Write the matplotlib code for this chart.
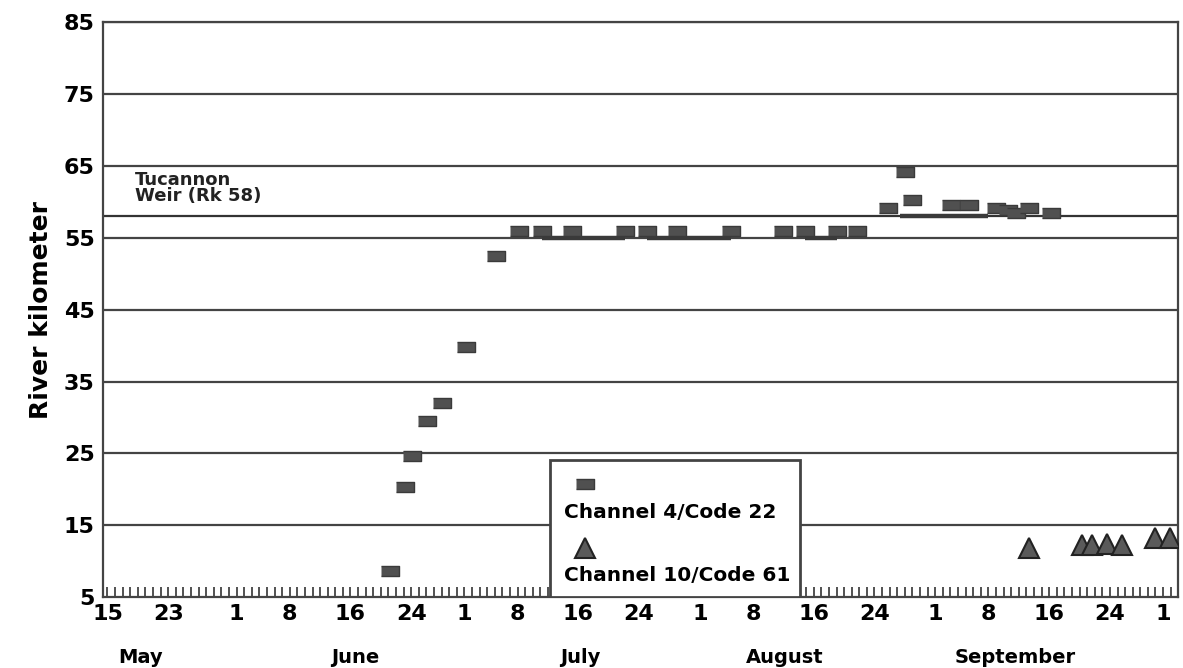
import matplotlib.pyplot as plt
from matplotlib.patches import Rectangle
import numpy as np

# Days since 15 May (x) and river kilometer (y)
ch4_day = [37.2, 39.2, 40.1, 42.1, 44.1, 47.2, 51.2,
           54.2, 57.2, 61.2, 68.2, 71.1, 75.0, 82.1, 88.9, 91.8, 96.1, 98.7,
           102.8, 105.0, 105.9, 111.1, 113.4, 117.0, 118.6, 119.6, 121.3, 124.3]
ch4_rk = [8.6, 20.3, 24.6, 29.5, 32.0, 39.8, 52.4,
          55.9, 55.9, 55.9, 55.9, 55.9, 55.9, 55.9, 55.9, 55.9, 55.9, 55.9,
          59.1, 64.1, 60.2, 59.5, 59.5, 59.1, 58.8, 58.4, 59.1, 58.4]

ch10_day = [121.3, 128.3, 129.7, 131.6, 133.6, 137.9, 139.9]
ch10_rk = [11.8, 12.2, 12.2, 12.4, 12.2, 13.2, 13.2]

# Stretches where the fish stayed put (start day, end day, river km)
stay_start = [57.2, 61.2, 71.1, 75.0, 91.8, 104.3]
stay_end = [61.2, 68.2, 75.0, 82.1, 96.1, 115.9]
stay_rk = [55, 55, 55, 55, 55, 58]

weir_rk = 58

# Tick labels
tick_days = [0, 8, 17, 24, 32, 40, 47, 54, 62, 70, 78, 85, 93, 101, 109, 116, 124, 132, 139]
tick_text = ['15', '23', '1', '8', '16', '24', '1', '8', '16', '24', '1', '8', '16', '24',
             '1', '8', '16', '24', '1']
month_day = [4.3, 32.6, 62.2, 89.2, 119.5]
month_text = ['May', 'June', 'July', 'August', 'September']
y_ticks = [5, 15, 25, 35, 45, 55, 65, 75, 85]

plt.rcParams['font.family'] = ['DejaVu Sans']
plt.rcParams['font.weight'] = 'bold'

fig = plt.figure(figsize=(11.83, 6.68), dpi=100)
ax = fig.add_axes([0.087, 0.106, 0.909, 0.861])

dark = '#3a3a3a'
box = [(-1, -0.5), (1, -0.5), (1, 0.5), (-1, 0.5)]

# Horizontal grid
for v in y_ticks[1:]:
    ax.axhline(v, color='#444444', lw=1.6, zorder=1)
# Tucannon weir line
ax.axhline(weir_rk, color='#333333', lw=1.6, zorder=1)
ax.text(3.6, 64.3, 'Tucannon\nWeir (Rk 58)', fontsize=13, va='top', ha='left',
        linespacing=0.9, color='#222222')

# Residence stretches
ax.hlines(stay_rk, stay_start, stay_end, color=dark, lw=3.2, zorder=2)

# Detections
ax.plot(ch4_day, ch4_rk, ls='none', marker=box, ms=13, mfc='#505050', mec='#3a3a3a',
        mew=1.0, zorder=3)
ax.plot(ch10_day, ch10_rk, ls='none', marker='^', ms=15, mfc='#5a5a5a', mec='#222222',
        mew=1.5, zorder=3)

# Legend box drawn by hand (marker above its label)
ax.add_patch(Rectangle((0.416, 0.0), 0.232, 0.238, transform=ax.transAxes, fill=True,
                       fc='white', ec='#444444', lw=2, zorder=4))
ax.plot([0.448], [0.197], transform=ax.transAxes, ls='none', marker=box, ms=13,
        mfc='#505050', mec='#3a3a3a', zorder=5)
ax.text(0.429, 0.148, 'Channel 4/Code 22', transform=ax.transAxes, fontsize=14.5,
        va='center', ha='left', zorder=5)
ax.plot([0.448], [0.085], transform=ax.transAxes, ls='none', marker='^', ms=15,
        mfc='#5a5a5a', mec='#222222', mew=1.5, zorder=5)
ax.text(0.429, 0.037, 'Channel 10/Code 61', transform=ax.transAxes, fontsize=14.5,
        va='center', ha='left', zorder=5)

# Axes limits and ticks
ax.set_xlim(-0.6, 141)
ax.set_ylim(5, 85)
ax.set_xticks(tick_days)
ax.set_xticklabels(tick_text, fontsize=16)
ax.set_xticks(np.arange(0, 142), minor=True)
ax.tick_params(axis='x', which='both', direction='in', length=7, width=1.2, color='#333333', pad=5)
ax.set_yticks(y_ticks)
ax.set_yticklabels([str(v) for v in y_ticks], fontsize=16)
ax.tick_params(axis='y', length=0, pad=6)

# Month labels
for d, m in zip(month_day, month_text):
    ax.text(d, -0.105, m, transform=ax.get_xaxis_transform(), fontsize=14, ha='center', va='center')

# Axis label
ax.set_ylabel('River kilometer', fontsize=18, fontweight='bold', labelpad=8)

for s in ax.spines.values():
    s.set_color('#444444')
    s.set_linewidth(1.6)

plt.savefig('out.png', dpi=100)
plt.close()
